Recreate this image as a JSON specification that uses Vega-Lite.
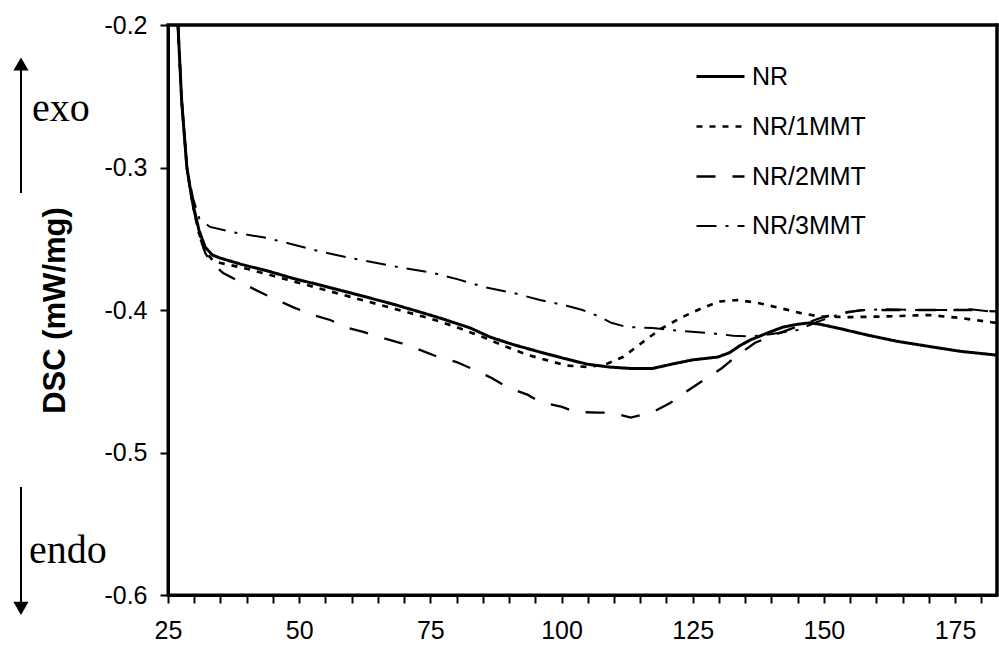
{
  "$schema": "https://vega.github.io/schema/vega-lite/v6.json",
  "width": 829,
  "height": 570,
  "autosize": {"type": "none"},
  "padding": {"left": 168, "top": 25, "right": 2, "bottom": 58},
  "background": "#ffffff",
  "config": {
    "view": {"stroke": "#000", "strokeWidth": 3},
    "axis": {
      "grid": false,
      "domainColor": "#000",
      "domainWidth": 3,
      "tickColor": "#000",
      "tickWidth": 2,
      "tickSize": 8,
      "labelColor": "#000",
      "labelFont": "Liberation Sans",
      "labelFontSize": 25,
      "labelFlush": false,
      "labelOverlap": false,
      "titleColor": "#000"
    },
    "legend": {
      "orient": "none",
      "legendX": 527,
      "legendY": 26,
      "symbolType": "stroke",
      "symbolSize": 2304,
      "symbolStrokeColor": "#000",
      "labelFont": "Liberation Sans",
      "labelFontSize": 25,
      "labelColor": "#000",
      "labelOffset": 6,
      "rowPadding": 11,
      "padding": 0
    }
  },
  "datasets": {
    "frame": [
      {"x": 25, "x2": 183, "y": -0.2, "y2": -0.2},
      {"x": 183, "x2": 183, "y": -0.6, "y2": -0.2}
    ],
    "curves": [
      {"series": "NR", "x": 26.9, "y": -0.2},
      {"series": "NR", "x": 27.6, "y": -0.253},
      {"series": "NR", "x": 28.6, "y": -0.3},
      {"series": "NR", "x": 29.6, "y": -0.323},
      {"series": "NR", "x": 30.9, "y": -0.344},
      {"series": "NR", "x": 32.1, "y": -0.356},
      {"series": "NR", "x": 33.5, "y": -0.3615},
      {"series": "NR", "x": 34.9, "y": -0.3635},
      {"series": "NR", "x": 39, "y": -0.368},
      {"series": "NR", "x": 44.4, "y": -0.373},
      {"series": "NR", "x": 49, "y": -0.378},
      {"series": "NR", "x": 54, "y": -0.3825},
      {"series": "NR", "x": 58.7, "y": -0.387},
      {"series": "NR", "x": 63.5, "y": -0.3916},
      {"series": "NR", "x": 68, "y": -0.396},
      {"series": "NR", "x": 73, "y": -0.4014},
      {"series": "NR", "x": 76.8, "y": -0.4056},
      {"series": "NR", "x": 82.6, "y": -0.4126},
      {"series": "NR", "x": 86.4, "y": -0.419},
      {"series": "NR", "x": 91, "y": -0.4245},
      {"series": "NR", "x": 95.9, "y": -0.4295},
      {"series": "NR", "x": 100.5, "y": -0.434},
      {"series": "NR", "x": 104.9, "y": -0.438},
      {"series": "NR", "x": 109, "y": -0.44},
      {"series": "NR", "x": 113, "y": -0.441},
      {"series": "NR", "x": 117.4, "y": -0.441},
      {"series": "NR", "x": 121, "y": -0.438},
      {"series": "NR", "x": 125, "y": -0.435},
      {"series": "NR", "x": 129.8, "y": -0.433},
      {"series": "NR", "x": 132, "y": -0.43},
      {"series": "NR", "x": 134, "y": -0.425},
      {"series": "NR", "x": 136, "y": -0.421},
      {"series": "NR", "x": 139, "y": -0.4165},
      {"series": "NR", "x": 142.2, "y": -0.412},
      {"series": "NR", "x": 145, "y": -0.41},
      {"series": "NR", "x": 147.4, "y": -0.409},
      {"series": "NR", "x": 149.3, "y": -0.41},
      {"series": "NR", "x": 153, "y": -0.413},
      {"series": "NR", "x": 158.2, "y": -0.4175},
      {"series": "NR", "x": 164, "y": -0.422},
      {"series": "NR", "x": 170.8, "y": -0.426},
      {"series": "NR", "x": 176, "y": -0.429},
      {"series": "NR", "x": 182.8, "y": -0.4316},

      {"series": "NR/1MMT", "x": 26.9, "y": -0.2},
      {"series": "NR/1MMT", "x": 27.6, "y": -0.253},
      {"series": "NR/1MMT", "x": 28.6, "y": -0.3},
      {"series": "NR/1MMT", "x": 29.6, "y": -0.324},
      {"series": "NR/1MMT", "x": 30.9, "y": -0.346},
      {"series": "NR/1MMT", "x": 32.1, "y": -0.359},
      {"series": "NR/1MMT", "x": 33.5, "y": -0.365},
      {"series": "NR/1MMT", "x": 35, "y": -0.367},
      {"series": "NR/1MMT", "x": 40, "y": -0.371},
      {"series": "NR/1MMT", "x": 45, "y": -0.376},
      {"series": "NR/1MMT", "x": 50, "y": -0.381},
      {"series": "NR/1MMT", "x": 55, "y": -0.386},
      {"series": "NR/1MMT", "x": 60, "y": -0.391},
      {"series": "NR/1MMT", "x": 65, "y": -0.396},
      {"series": "NR/1MMT", "x": 70, "y": -0.401},
      {"series": "NR/1MMT", "x": 75, "y": -0.406},
      {"series": "NR/1MMT", "x": 80, "y": -0.412},
      {"series": "NR/1MMT", "x": 85, "y": -0.419},
      {"series": "NR/1MMT", "x": 89.6, "y": -0.426},
      {"series": "NR/1MMT", "x": 93.6, "y": -0.4316},
      {"series": "NR/1MMT", "x": 97, "y": -0.435},
      {"series": "NR/1MMT", "x": 101, "y": -0.439},
      {"series": "NR/1MMT", "x": 105, "y": -0.44},
      {"series": "NR/1MMT", "x": 108.5, "y": -0.438},
      {"series": "NR/1MMT", "x": 111.7, "y": -0.433},
      {"series": "NR/1MMT", "x": 115.5, "y": -0.4225},
      {"series": "NR/1MMT", "x": 119, "y": -0.413},
      {"series": "NR/1MMT", "x": 123, "y": -0.405},
      {"series": "NR/1MMT", "x": 126.8, "y": -0.3986},
      {"series": "NR/1MMT", "x": 130.2, "y": -0.394},
      {"series": "NR/1MMT", "x": 133.6, "y": -0.393},
      {"series": "NR/1MMT", "x": 137.4, "y": -0.395},
      {"series": "NR/1MMT", "x": 141.6, "y": -0.3986},
      {"series": "NR/1MMT", "x": 145.4, "y": -0.402},
      {"series": "NR/1MMT", "x": 149, "y": -0.4045},
      {"series": "NR/1MMT", "x": 155, "y": -0.405},
      {"series": "NR/1MMT", "x": 162, "y": -0.4045},
      {"series": "NR/1MMT", "x": 170, "y": -0.4035},
      {"series": "NR/1MMT", "x": 176, "y": -0.4056},
      {"series": "NR/1MMT", "x": 182.8, "y": -0.409},

      {"series": "NR/2MMT", "x": 26.9, "y": -0.2},
      {"series": "NR/2MMT", "x": 27.6, "y": -0.253},
      {"series": "NR/2MMT", "x": 28.6, "y": -0.3},
      {"series": "NR/2MMT", "x": 29.6, "y": -0.324},
      {"series": "NR/2MMT", "x": 30.9, "y": -0.347},
      {"series": "NR/2MMT", "x": 32.1, "y": -0.36},
      {"series": "NR/2MMT", "x": 33.3, "y": -0.367},
      {"series": "NR/2MMT", "x": 35.5, "y": -0.374},
      {"series": "NR/2MMT", "x": 39.1, "y": -0.381},
      {"series": "NR/2MMT", "x": 42.5, "y": -0.3874},
      {"series": "NR/2MMT", "x": 45.8, "y": -0.393},
      {"series": "NR/2MMT", "x": 48.8, "y": -0.398},
      {"series": "NR/2MMT", "x": 52.6, "y": -0.4035},
      {"series": "NR/2MMT", "x": 55.9, "y": -0.407},
      {"series": "NR/2MMT", "x": 59.3, "y": -0.4126},
      {"series": "NR/2MMT", "x": 62.2, "y": -0.4154},
      {"series": "NR/2MMT", "x": 66, "y": -0.4196},
      {"series": "NR/2MMT", "x": 69.2, "y": -0.423},
      {"series": "NR/2MMT", "x": 73, "y": -0.428},
      {"series": "NR/2MMT", "x": 76.5, "y": -0.433},
      {"series": "NR/2MMT", "x": 80, "y": -0.4365},
      {"series": "NR/2MMT", "x": 82.6, "y": -0.4407},
      {"series": "NR/2MMT", "x": 86.7, "y": -0.4477},
      {"series": "NR/2MMT", "x": 89.6, "y": -0.454},
      {"series": "NR/2MMT", "x": 93.6, "y": -0.4596},
      {"series": "NR/2MMT", "x": 95.9, "y": -0.4646},
      {"series": "NR/2MMT", "x": 100.1, "y": -0.468},
      {"series": "NR/2MMT", "x": 102.6, "y": -0.4716},
      {"series": "NR/2MMT", "x": 107, "y": -0.472},
      {"series": "NR/2MMT", "x": 109.6, "y": -0.472},
      {"series": "NR/2MMT", "x": 113.2, "y": -0.4755},
      {"series": "NR/2MMT", "x": 117.4, "y": -0.4716},
      {"series": "NR/2MMT", "x": 120.7, "y": -0.4653},
      {"series": "NR/2MMT", "x": 123.5, "y": -0.458},
      {"series": "NR/2MMT", "x": 127.7, "y": -0.4477},
      {"series": "NR/2MMT", "x": 130.6, "y": -0.4407},
      {"series": "NR/2MMT", "x": 133.6, "y": -0.4316},
      {"series": "NR/2MMT", "x": 136.9, "y": -0.423},
      {"series": "NR/2MMT", "x": 141.6, "y": -0.416},
      {"series": "NR/2MMT", "x": 145.4, "y": -0.411},
      {"series": "NR/2MMT", "x": 149, "y": -0.406},
      {"series": "NR/2MMT", "x": 153, "y": -0.402},
      {"series": "NR/2MMT", "x": 158, "y": -0.4},
      {"series": "NR/2MMT", "x": 165, "y": -0.4},
      {"series": "NR/2MMT", "x": 172, "y": -0.4},
      {"series": "NR/2MMT", "x": 178, "y": -0.4},
      {"series": "NR/2MMT", "x": 182.8, "y": -0.401},

      {"series": "NR/3MMT", "x": 26.9, "y": -0.2},
      {"series": "NR/3MMT", "x": 27.6, "y": -0.253},
      {"series": "NR/3MMT", "x": 28.6, "y": -0.3},
      {"series": "NR/3MMT", "x": 29.8, "y": -0.322},
      {"series": "NR/3MMT", "x": 31, "y": -0.336},
      {"series": "NR/3MMT", "x": 33, "y": -0.3417},
      {"series": "NR/3MMT", "x": 38.2, "y": -0.346},
      {"series": "NR/3MMT", "x": 43.9, "y": -0.3495},
      {"series": "NR/3MMT", "x": 48.8, "y": -0.354},
      {"series": "NR/3MMT", "x": 54, "y": -0.359},
      {"series": "NR/3MMT", "x": 59.7, "y": -0.3635},
      {"series": "NR/3MMT", "x": 64.8, "y": -0.367},
      {"series": "NR/3MMT", "x": 69.8, "y": -0.3705},
      {"series": "NR/3MMT", "x": 75.5, "y": -0.374},
      {"series": "NR/3MMT", "x": 80.3, "y": -0.3785},
      {"series": "NR/3MMT", "x": 85.4, "y": -0.384},
      {"series": "NR/3MMT", "x": 90.8, "y": -0.388},
      {"series": "NR/3MMT", "x": 95.9, "y": -0.393},
      {"series": "NR/3MMT", "x": 101, "y": -0.397},
      {"series": "NR/3MMT", "x": 104, "y": -0.4},
      {"series": "NR/3MMT", "x": 106.8, "y": -0.404},
      {"series": "NR/3MMT", "x": 109.5, "y": -0.409},
      {"series": "NR/3MMT", "x": 112.5, "y": -0.412},
      {"series": "NR/3MMT", "x": 117.4, "y": -0.4126},
      {"series": "NR/3MMT", "x": 122.6, "y": -0.4147},
      {"series": "NR/3MMT", "x": 127.7, "y": -0.416},
      {"series": "NR/3MMT", "x": 132.7, "y": -0.418},
      {"series": "NR/3MMT", "x": 136, "y": -0.4185},
      {"series": "NR/3MMT", "x": 139, "y": -0.4175},
      {"series": "NR/3MMT", "x": 145, "y": -0.414},
      {"series": "NR/3MMT", "x": 149, "y": -0.408},
      {"series": "NR/3MMT", "x": 153, "y": -0.403},
      {"series": "NR/3MMT", "x": 157, "y": -0.4},
      {"series": "NR/3MMT", "x": 162, "y": -0.3995},
      {"series": "NR/3MMT", "x": 168, "y": -0.4},
      {"series": "NR/3MMT", "x": 174, "y": -0.4},
      {"series": "NR/3MMT", "x": 178, "y": -0.3995},
      {"series": "NR/3MMT", "x": 182.8, "y": -0.4014}
    ],
    "labels": [
      {"x": -0.9, "y": -0.2674, "text": "exo"},
      {"x": -1.5, "y": -0.5775, "text": "endo"}
    ],
    "arrows": [
      {"x": -3.02, "y": -0.3179, "y2": -0.2316},
      {"x": -3.02, "y": -0.5242, "y2": -0.6055}
    ],
    "heads": [
      {"x": -3.02, "y": -0.2274, "dir": "up"},
      {"x": -3.02, "y": -0.6094, "dir": "down"}
    ]
  },
  "encoding": {
    "x": {
      "field": "x",
      "type": "quantitative",
      "scale": {"domain": [25, 183], "nice": false, "zero": false},
      "axis": {
        "title": null,
        "values": [25, 30, 35, 40, 45, 50, 55, 60, 65, 70, 75, 80, 85, 90, 95, 100, 105, 110, 115, 120, 125, 130, 135, 140, 145, 150, 155, 160, 165, 170, 175, 180],
        "labelExpr": "datum.value % 25 == 0 ? format(datum.value, 'd') : ''",
        "labelPadding": 15
      }
    },
    "y": {
      "field": "y",
      "type": "quantitative",
      "scale": {"domain": [-0.6, -0.2], "nice": false, "zero": false},
      "axis": {
        "title": "DSC (mW/mg)",
        "titleFont": "Liberation Sans",
        "titleFontSize": 31,
        "titleFontWeight": "bold",
        "titlePadding": 32,
        "values": [-0.6, -0.5, -0.4, -0.3, -0.2],
        "labelExpr": "'-' + format(abs(datum.value), '.1f')",
        "labelPadding": 13
      }
    }
  },
  "layer": [
    {
      "data": {"name": "frame"},
      "mark": {"type": "rule", "color": "#000", "strokeWidth": 3, "strokeCap": "square"},
      "encoding": {
        "x2": {"field": "x2"},
        "y2": {"field": "y2"}
      }
    },
    {
      "data": {"name": "curves"},
      "mark": {"type": "line", "color": "#000", "clip": true},
      "encoding": {
        "strokeDash": {
          "field": "series",
          "type": "nominal",
          "title": null,
          "scale": {
            "domain": ["NR", "NR/1MMT", "NR/2MMT", "NR/3MMT"],
            "range": [[1, 0], [6, 7], [19, 17], [20, 9, 3, 9]]
          }
        },
        "strokeWidth": {
          "field": "series",
          "type": "nominal",
          "title": null,
          "scale": {
            "domain": ["NR", "NR/1MMT", "NR/2MMT", "NR/3MMT"],
            "range": [3, 2, 2, 2]
          }
        }
      }
    },
    {
      "data": {"name": "labels"},
      "mark": {"type": "text", "font": "Liberation Serif", "fontSize": 40, "align": "left", "baseline": "alphabetic", "color": "#000"},
      "encoding": {"text": {"field": "text"}}
    },
    {
      "data": {"name": "arrows"},
      "mark": {"type": "rule", "color": "#000", "strokeWidth": 2},
      "encoding": {"y2": {"field": "y2"}}
    },
    {
      "data": {"name": "heads"},
      "mark": {"type": "point", "filled": true, "color": "#000", "opacity": 1, "size": 230},
      "encoding": {
        "shape": {
          "field": "dir",
          "type": "nominal",
          "scale": {"domain": ["up", "down"], "range": ["triangle-up", "triangle-down"]},
          "legend": null
        }
      }
    }
  ]
}
